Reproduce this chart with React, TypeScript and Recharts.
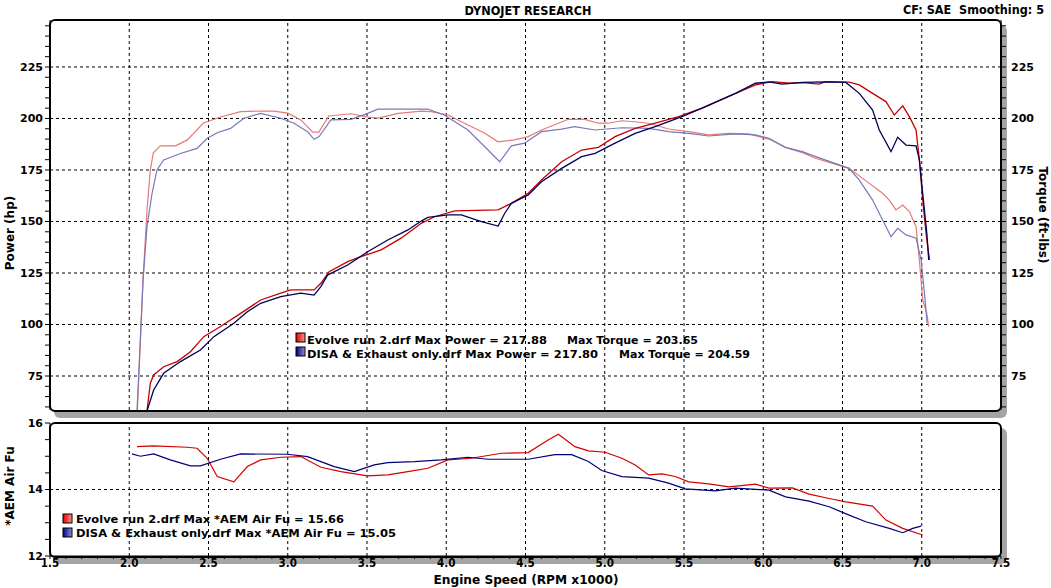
import React from 'react';
import { LineChart, Line, XAxis, YAxis, ReferenceLine } from 'recharts';

// ---------- data (rpm x1000, value) ----------
const evolveTorque: [number, number][] = [
  [2.051, 58], [2.087, 121.6], [2.112, 155.6], [2.133, 175], [2.152, 183.3], [2.196, 186.7], [2.291, 186.7],
  [2.367, 189.6], [2.468, 197.8], [2.576, 200.7], [2.703, 203.3], [2.829, 203.6], [2.911, 203.6], [3.0, 202.6],
  [3.082, 199.3], [3.158, 193.4], [3.196, 193.4], [3.259, 201.2], [3.399, 202.3], [3.506, 200.7], [3.57, 200.2],
  [3.696, 202.5], [3.842, 203.6], [3.905, 203.3], [4.011, 201.7], [4.137, 196.8], [4.241, 193], [4.327, 188.7],
  [4.43, 189.6], [4.517, 191.2], [4.601, 194.4], [4.77, 199.6], [4.873, 199.6], [4.96, 197.7], [5.023, 197.7],
  [5.108, 198.9], [5.19, 198.4], [5.277, 197.7], [5.403, 194.9], [5.53, 193.6], [5.656, 192], [5.783, 192.8],
  [5.909, 192.5], [6.036, 190], [6.141, 186], [6.247, 183.4], [6.329, 180.7], [6.542, 175.8], [6.669, 168.5],
  [6.753, 163.7], [6.795, 160.4], [6.837, 155.6], [6.88, 158], [6.922, 154.8], [6.964, 147.5], [6.985, 131.3],
  [7.006, 111.9], [7.032, 105.4], [7.044, 99],
];
const disaTorque: [number, number][] = [
  [2.049, 58], [2.087, 121.6], [2.112, 147.5], [2.144, 163.7], [2.175, 175], [2.217, 179.9], [2.323, 183],
  [2.428, 185.5], [2.492, 190.4], [2.555, 193.1], [2.639, 195.2], [2.723, 200.1], [2.829, 202.5], [2.956, 200.1],
  [3.04, 197.7], [3.125, 193.6], [3.166, 189.9], [3.198, 191.2], [3.272, 199.3], [3.399, 199.6], [3.504, 202.5],
  [3.568, 204.5], [3.715, 204.5], [3.884, 204.6], [3.987, 201.7], [4.137, 194.4], [4.264, 184.7], [4.337, 179],
  [4.411, 186.7], [4.494, 188], [4.601, 193.6], [4.728, 194.8], [4.81, 196], [4.937, 194.4], [5.108, 195.5],
  [5.277, 195.2], [5.403, 193.6], [5.53, 192.8], [5.656, 191.5], [5.823, 192.5], [5.949, 192], [6.036, 190.4],
  [6.139, 186], [6.247, 183.9], [6.331, 181.5], [6.542, 175.8], [6.606, 170.1], [6.69, 160.4], [6.753, 150.7],
  [6.806, 142.6], [6.848, 146.7], [6.901, 143.5], [6.964, 141.9], [6.996, 131.3], [7.017, 115.2], [7.034, 100.6],
];
const evolvePower: [number, number][] = [
  [2.112, 58], [2.133, 71.5], [2.154, 75.5], [2.217, 79.5], [2.302, 82], [2.386, 86.8], [2.47, 94.1], [2.576, 99],
  [2.703, 105.4], [2.829, 111.9], [2.956, 115.2], [3.019, 116.8], [3.166, 116.8], [3.209, 120], [3.261, 125.6],
  [3.378, 130.5], [3.462, 132.9], [3.589, 136.2], [3.715, 141.9], [3.842, 149.1], [3.926, 152.3], [4.053, 155.2],
  [4.327, 155.6], [4.411, 158.8], [4.517, 163.7], [4.601, 170.1], [4.728, 179], [4.854, 184.7], [4.96, 186],
  [5.065, 191.2], [5.192, 195.2], [5.318, 197.7], [5.466, 200.9], [5.614, 205], [5.825, 212.2], [5.951, 216.3],
  [6.057, 217.9], [6.163, 217.1], [6.247, 217.4], [6.352, 216.7], [6.394, 217.9], [6.542, 217.6], [6.606, 216.3],
  [6.69, 212.2], [6.774, 208.2], [6.827, 201.7], [6.88, 206.1], [6.922, 200.9], [6.964, 194.4], [6.985, 179.9],
  [7.006, 160.4], [7.027, 144.3], [7.049, 131.3],
];
const disaPower: [number, number][] = [
  [2.112, 58], [2.154, 68.2], [2.217, 76.3], [2.323, 82], [2.449, 87.6], [2.534, 94.1], [2.66, 100.6],
  [2.745, 106.2], [2.829, 110.3], [2.956, 113.5], [3.082, 115.2], [3.166, 114.3], [3.209, 118.4], [3.251, 124],
  [3.378, 128.9], [3.504, 135.3], [3.631, 141], [3.758, 145.9], [3.842, 150.2], [3.884, 152], [4.011, 153.2],
  [4.095, 153.2], [4.222, 149.9], [4.327, 147.8], [4.369, 154], [4.411, 158.8], [4.517, 162.9], [4.601, 169.3],
  [4.728, 175.8], [4.854, 181.5], [4.939, 183.1], [5.065, 188], [5.192, 192.8], [5.318, 196], [5.487, 200.9],
  [5.614, 205], [5.825, 212.2], [5.951, 217.1], [6.036, 217.8], [6.12, 216.7], [6.247, 217.5], [6.394, 217.8],
  [6.521, 217.5], [6.606, 212.2], [6.69, 204.1], [6.732, 194.4], [6.806, 183.9], [6.848, 190.9], [6.901, 187.1],
  [6.964, 186.7], [6.985, 179.9], [7.006, 163.7], [7.032, 144.3], [7.044, 131.3],
];
const evolveAfr: [number, number][] = [
  [2.049, 15.29], [2.154, 15.31], [2.365, 15.27], [2.428, 15.24], [2.492, 14.94], [2.555, 14.39], [2.66, 14.23],
  [2.745, 14.69], [2.829, 14.89], [2.956, 14.97], [3.082, 14.99], [3.209, 14.67], [3.335, 14.54], [3.504, 14.41],
  [3.631, 14.44], [3.758, 14.54], [3.884, 14.64], [4.011, 14.89], [4.158, 14.94], [4.348, 15.09], [4.517, 15.11],
  [4.643, 15.49], [4.707, 15.66], [4.812, 15.29], [4.897, 15.16], [5.002, 15.12], [5.108, 14.94], [5.192, 14.74],
  [5.277, 14.44], [5.361, 14.47], [5.445, 14.39], [5.53, 14.23], [5.656, 14.17], [5.783, 14.08], [5.951, 14.16],
  [6.036, 14.04], [6.184, 14.05], [6.289, 13.86], [6.416, 13.73], [6.521, 13.63], [6.69, 13.5], [6.774, 13.08],
  [6.88, 12.83], [7.006, 12.63],
];
const disaAfr: [number, number][] = [
  [2.017, 15.07], [2.07, 15.0], [2.154, 15.07], [2.259, 14.89], [2.386, 14.71], [2.449, 14.71], [2.576, 14.91],
  [2.703, 15.07], [2.998, 15.06], [3.125, 14.99], [3.293, 14.69], [3.42, 14.54], [3.546, 14.74], [3.631, 14.81],
  [3.799, 14.84], [3.968, 14.89], [4.137, 14.97], [4.264, 14.91], [4.517, 14.91], [4.685, 15.05], [4.791, 15.05],
  [4.897, 14.84], [4.981, 14.57], [5.108, 14.39], [5.277, 14.34], [5.403, 14.19], [5.508, 14.02], [5.698, 13.96],
  [5.824, 14.04], [6.036, 13.98], [6.141, 13.78], [6.289, 13.65], [6.416, 13.48], [6.542, 13.23], [6.647, 13.03],
  [6.795, 12.83], [6.88, 12.7], [6.943, 12.83], [6.996, 12.9],
];

const xGridValues = [2.0, 2.5, 3.0, 3.5, 4.0, 4.5, 5.0, 5.5, 6.0, 6.5, 7.0];
const topGridValues = [75, 100, 125, 150, 175, 200, 225];
const topTicks = Array.from({ length: 38 }, (_, i) => 60 + i * 5);
const afrTicks = [12, 12.5, 13, 13.5, 14, 14.5, 15, 15.5, 16];
const xTicks = Array.from({ length: 61 }, (_, i) => (15 + i) / 10);

const toPts = (a: [number, number][]) => a.map(([rpm, v]) => ({ rpm, v }));

const C = {
  evolvePower: '#c80000',
  disaPower: '#000058',
  evolveTorque: '#e87878',
  disaTorque: '#7878b8',
  evolveAfr: '#d40000',
  disaAfr: '#000078',
};

const boldFont = "'DejaVu Sans', Verdana, sans-serif";
const condFont = "'DejaVu Sans Condensed', 'Liberation Sans Narrow', 'DejaVu Sans', sans-serif";
const tickStyle = { fontFamily: boldFont, fontSize: 11, fontWeight: 700, fill: '#000' };

const frameStyle = (top: number, height: number): React.CSSProperties => ({
  position: 'absolute', left: 49, top, width: 953, height, boxSizing: 'border-box',
  border: '2px solid #000', borderRadius: 6, background: '#fff', boxShadow: '5px 6px 0 #a4a4a4',
});

export default function App() {
  const gridLine = { stroke: '#000', strokeDasharray: '3 3', strokeWidth: 1 };
  return (
    <div style={{ position: 'absolute', left: 0, top: 0, width: 1051, height: 588, background: '#fff', overflow: 'hidden' }}>
      <div style={frameStyle(19, 393)} />
      <div style={frameStyle(422, 136)} />

      <div style={{ position: 'absolute', left: 0, top: 0 }}>
        <LineChart width={1051} height={420} margin={{ top: 20, right: 10, bottom: 10, left: 10 }}>
          <XAxis dataKey="rpm" type="number" domain={[1.5, 7.5]} hide allowDataOverflow />
          <YAxis yAxisId="left" type="number" domain={[58.5, 247.8]} allowDataOverflow width={40}
            ticks={topTicks} interval={0} tickSize={5} tickMargin={2}
            tickFormatter={(v: number) => (v % 25 === 0 ? String(v) : '')}
            tick={tickStyle} axisLine={{ stroke: '#000' }} tickLine={{ stroke: '#000' }} />
          <YAxis yAxisId="right" orientation="right" type="number" domain={[58.5, 247.8]} allowDataOverflow width={40}
            ticks={topTicks} interval={0} tickSize={5} tickMargin={5}
            tickFormatter={(v: number) => (v % 25 === 0 ? String(v) : '')}
            tick={tickStyle} axisLine={{ stroke: '#000' }} tickLine={{ stroke: '#000' }} />
          {xGridValues.map((x) => (
            <ReferenceLine key={'vx' + x} yAxisId="left" x={x} {...gridLine} />
          ))}
          {topGridValues.map((y) => (
            <ReferenceLine key={'hy' + y} yAxisId="left" y={y} {...gridLine} />
          ))}
          <Line yAxisId="right" data={toPts(evolveTorque)} dataKey="v" type="linear" stroke={C.evolveTorque} strokeWidth={1.2} dot={false} isAnimationActive={false} />
          <Line yAxisId="right" data={toPts(disaTorque)} dataKey="v" type="linear" stroke={C.disaTorque} strokeWidth={1.2} dot={false} isAnimationActive={false} />
          <Line yAxisId="left" data={toPts(evolvePower)} dataKey="v" type="linear" stroke={C.evolvePower} strokeWidth={1.3} dot={false} isAnimationActive={false} />
          <Line yAxisId="left" data={toPts(disaPower)} dataKey="v" type="linear" stroke={C.disaPower} strokeWidth={1.3} dot={false} isAnimationActive={false} />
        </LineChart>
      </div>

      <div style={{ position: 'absolute', left: 0, top: 400 }}>
        <LineChart width={1051} height={188} margin={{ top: 23, right: 50, bottom: 10, left: 10 }}>
          <XAxis dataKey="rpm" type="number" domain={[1.5, 7.5]} allowDataOverflow height={22}
            ticks={xTicks} interval={0} tickSize={3} tickMargin={0}
            tickFormatter={(v: number) => (Math.abs(v * 2 - Math.round(v * 2)) < 1e-6 ? v.toFixed(1) : '')}
            tick={{ fontFamily: condFont, fontSize: 11.5, fontWeight: 700, fill: '#000' }}
            axisLine={{ stroke: '#000' }} tickLine={{ stroke: '#000' }} />
          <YAxis type="number" domain={[12, 16]} allowDataOverflow width={40}
            ticks={afrTicks} interval={0} tickSize={5} tickMargin={2}
            tickFormatter={(v: number) => (v % 2 === 0 ? String(v) : '')}
            tick={tickStyle} axisLine={{ stroke: '#000' }} tickLine={{ stroke: '#000' }} />
          {xGridValues.map((x) => (
            <ReferenceLine key={'bx' + x} x={x} {...gridLine} />
          ))}
          <ReferenceLine y={14} {...gridLine} />
          <Line data={toPts(evolveAfr)} dataKey="v" type="linear" stroke={C.evolveAfr} strokeWidth={1.2} dot={false} isAnimationActive={false} />
          <Line data={toPts(disaAfr)} dataKey="v" type="linear" stroke={C.disaAfr} strokeWidth={1.2} dot={false} isAnimationActive={false} />
        </LineChart>
      </div>

      <svg width={1051} height={588} style={{ position: 'absolute', left: 0, top: 0, pointerEvents: 'none' }}>
        <defs>
          <linearGradient id="gRed" x1="0" x2="1" y1="0" y2="0">
            <stop offset="0" stopColor="#e00000" />
            <stop offset="1" stopColor="#ff9090" />
          </linearGradient>
          <linearGradient id="gBlue" x1="0" x2="1" y1="0" y2="0">
            <stop offset="0" stopColor="#000080" />
            <stop offset="1" stopColor="#9090d0" />
          </linearGradient>
        </defs>
        <text x={528} y={15} textAnchor="middle" fontFamily={condFont} fontWeight={700} fontSize={12.5}
          textLength={127} lengthAdjust="spacingAndGlyphs">DYNOJET RESEARCH</text>
        <text x={903} y={14} fontFamily={condFont} fontWeight={700} fontSize={12.5}
          textLength={141} lengthAdjust="spacingAndGlyphs">{'CF: SAE\u00A0\u00A0Smoothing: 5'}</text>
        <text x={526} y={584} textAnchor="middle" fontFamily={condFont} fontWeight={700} fontSize={13}
          textLength={185} lengthAdjust="spacingAndGlyphs">Engine Speed (RPM x1000)</text>

        <text transform="translate(14,233) rotate(-90)" textAnchor="middle" fontFamily={boldFont} fontWeight={700} fontSize={12}>Power (hp)</text>
        <text transform="translate(1039,215) rotate(90)" textAnchor="middle" fontFamily={boldFont} fontWeight={700} fontSize={12}>Torque (ft-lbs)</text>
        <text transform="translate(14,486) rotate(-90)" textAnchor="middle" fontFamily={boldFont} fontWeight={700} fontSize={12}>*AEM Air Fu</text>

        <rect x={296} y={333} width={9} height={9} fill="url(#gRed)" stroke="#000" strokeWidth={1} />
        <rect x={296} y={347} width={9} height={9} fill="url(#gBlue)" stroke="#000" strokeWidth={1} />
        <g fontFamily={boldFont} fontWeight={700} fontSize={11} fill="#000">
          <text x={307} y={344} textLength={240} lengthAdjust="spacingAndGlyphs">Evolve run 2.drf Max Power = 217.88</text>
          <text x={567} y={344} textLength={131} lengthAdjust="spacingAndGlyphs">Max Torque = 203.65</text>
          <text x={307} y={358} textLength={291} lengthAdjust="spacingAndGlyphs">DISA &amp; Exhaust only.drf Max Power = 217.80</text>
          <text x={619} y={358} textLength={131} lengthAdjust="spacingAndGlyphs">Max Torque = 204.59</text>
        </g>

        <rect x={63} y={514} width={9} height={9} fill="url(#gRed)" stroke="#000" strokeWidth={1} />
        <rect x={63} y={528} width={9} height={9} fill="url(#gBlue)" stroke="#000" strokeWidth={1} />
        <g fontFamily={boldFont} fontWeight={700} fontSize={11} fill="#000">
          <text x={76} y={523} textLength={268} lengthAdjust="spacingAndGlyphs">Evolve run 2.drf Max *AEM Air Fu = 15.66</text>
          <text x={76} y={537} textLength={320} lengthAdjust="spacingAndGlyphs">DISA &amp; Exhaust only.drf Max *AEM Air Fu = 15.05</text>
        </g>
      </svg>
    </div>
  );
}
